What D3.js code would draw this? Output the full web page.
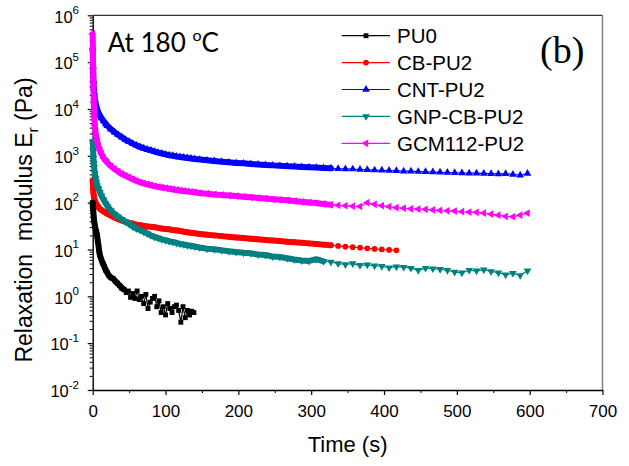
<!DOCTYPE html>
<html>
<head>
<meta charset="utf-8">
<script src="https://cdn.jsdelivr.net/npm/d3@7/dist/d3.min.js"></script>
<style>
    body { margin: 0; background: #fff; }
    text { font-family: "Liberation Sans", Arial, sans-serif; }
</style>
</head>
<body>
<div id="chart"></div>
<script>

// time points (s) shared by the filled PU2 samples
var timeGrid = [0, 0.5, 1, 1.5, 2, 3, 4, 5, 6, 8, 10, 12, 15, 18,
    20, 25, 30, 35, 40, 45, 50, 55, 60, 65, 70, 75, 80, 85, 90, 95, 100, 105, 110, 115, 120, 125, 130, 135, 140,
    147, 157, 167, 177, 187, 197, 207, 217, 227, 237, 247, 257, 267, 277, 287, 297, 307, 317, 327, 337, 347,
    357, 367, 377, 387, 397, 407, 417, 427, 437, 447, 457, 467, 477, 487, 497, 507, 517, 527, 537, 547,
    557, 567, 577, 587, 597];

// pure PU has its own (shorter) record
var timePU0 = [0, 0.5, 1, 1.5, 2, 3, 4, 5, 6, 7, 8, 9, 10, 12, 14, 16, 18, 20, 22, 25, 28, 31, 34, 37, 40,
    43, 46, 49, 52, 55, 58, 61, 64, 67, 70, 73, 76, 79, 82, 85, 88, 91, 94, 97, 100, 103, 106, 109, 112,
    115, 118, 121, 124, 127, 130, 133, 136, 139];

// relaxation modulus Er (Pa)
var ePU0 = [100, 80, 60, 48, 40, 32, 27, 24, 20, 15, 12, 9, 7.5, 6, 5, 4.3, 3.6, 3.2, 2.8, 2.5, 2.4, 2.1, 1.9, 1.7, 1.5,
    1.4, 1.2, 1.3, 0.95, 1.15, 0.9, 1.3, 0.85, 1.0, 0.7, 1.1, 0.55, 0.75, 0.9, 1.0, 0.6, 0.8, 0.45, 0.6, 0.4, 0.7, 0.55, 0.45, 0.6,
    0.65, 0.5, 0.28, 0.6, 0.35, 0.5, 0.4, 0.48, 0.45];

var eCB = [300, 200, 160, 140, 125, 110, 100, 93, 88, 80, 74, 70, 65, 61,
    58, 53, 48, 44.5, 41.5, 39, 37, 35.5, 34, 33, 32, 31, 30.5, 30, 29, 28, 27.5, 27, 26, 25.5, 25, 24, 23.3, 22.7, 22.2,
    21.5, 20.7, 20, 19.3, 18.7, 18.1, 17.5, 17, 16.5, 16, 15.5, 15.1, 14.7, 14.3, 13.9, 13.5, 13.1, 12.7, 12.3, 11.9,
    11.5, 11.2, 10.9, 10.6, 10.3, 10.0, 9.8, 9.6];

var eCNT = [2e5, 8e4, 4e4, 2.8e4, 2.2e4, 1.6e4, 1.3e4, 1.15e4, 1.0e4, 8300, 7200, 6400, 5500, 4800,
    4400, 3700, 3200, 2800, 2500, 2200, 2000, 1820, 1670, 1550, 1450, 1370, 1300, 1230, 1170, 1120, 1070, 1030, 1000, 970, 945, 920, 895, 875, 855,
    830, 800, 775, 750, 725, 705, 690, 670, 655, 640, 625, 610, 600, 590, 580, 570, 560, 550, 540, 530,
    525, 520, 510, 505, 495, 490, 485, 480, 470, 470, 460, 455, 450, 445, 440, 435, 430, 425, 425, 420,
    415, 410, 415, 400, 385, 420];

var eGNP = [2000, 1300, 900, 700, 560, 420, 330, 270, 230, 200, 165, 140, 115, 95,
    85, 68, 57, 50, 44, 39, 35, 31, 28, 26, 24, 22, 20, 18.5, 17.5, 16.5, 15.8, 15, 14.5, 13.8, 13.2, 12.8, 12.3, 12, 11.6,
    11, 10.4, 10.1, 9.6, 9.2, 8.8, 8.5, 8.3, 7.8, 7.6, 7.1, 6.9, 6.5, 6.1, 5.8, 5.7, 6.2, 5.6, 5.4, 5.0,
    4.8, 5.0, 4.6, 4.7, 4.5, 4.4, 4.1, 4.3, 4.2, 4.0, 3.6, 4.0, 3.9, 3.8, 3.6, 3.3, 3.2, 3.6, 3.5, 3.7,
    3.4, 3.2, 2.9, 3.1, 2.8, 3.5];

var eGCM = [4e5, 1e5, 3e4, 1.4e4, 8000, 4500, 3200, 2500, 2100, 1600, 1300, 1100, 900, 780,
    720, 600, 520, 460, 410, 375, 345, 315, 290, 272, 258, 245, 235, 225, 217, 210, 204, 198, 192, 187, 182, 178, 174, 170, 166,
    160, 155, 150, 146, 142, 138, 134, 130, 126, 122, 118, 115, 112, 108, 104, 101, 98, 94, 90, 88,
    86, 84, 83, 100, 92, 86, 82, 78, 76, 74, 73, 72, 70, 68, 67, 66, 64, 63, 62, 60,
    57, 54, 51, 50, 54, 60];

var seriesNames = ["PU0", "CB-PU2", "CNT-PU2", "GNP-CB-PU2", "GCM112-PU2"];
var xTicks = [0, 100, 200, 300, 400, 500, 600, 700];
var xMinorTicks = [50, 150, 250, 350, 450, 550, 650];
var yTicks = [1e-2, 1e-1, 1e0, 1e1, 1e2, 1e3, 1e4, 1e5, 1e6];


RelaxVis = function(_parentElement){
    this.parentElement = _parentElement;
    this.initVis();
};

RelaxVis.prototype.initVis = function(){
    var vis = this;

    vis.width = 629;
    vis.height = 466;
    vis.left = 92.7;
    vis.right = 602.5;
    vis.top = 15.3;
    vis.bottom = 390;

    vis.svg = d3.select(vis.parentElement).append("svg")
        .attr("width", vis.width)
        .attr("height", vis.height);

    vis.x = d3.scaleLinear().domain([0, 700]).range([vis.left, vis.right]);
    vis.y = d3.scaleLog().domain([1e-2, 1e6]).range([vis.bottom, vis.top]);

    // series table, in drawing order (PU0 ends up on top)
    // dense = time up to which the instrument logged so often that the markers merge into a band
    vis.series = [
        {name: seriesNames[1], t: timeGrid.slice(0, eCB.length), e: eCB, color: "#FF0000", sym: d3.symbolCircle, size: 26, rot: 0, legend: 1, dense: 330},
        {name: seriesNames[2], t: timeGrid, e: eCNT, color: "#0000FF", sym: d3.symbolTriangle, size: 26, rot: 0, legend: 2, dense: 335},
        {name: seriesNames[3], t: timeGrid, e: eGNP, color: "#008080", sym: d3.symbolTriangle, size: 26, rot: 180, legend: 3, dense: 322},
        {name: seriesNames[4], t: timeGrid, e: eGCM, color: "#FF00FF", sym: d3.symbolTriangle, size: 26, rot: -90, legend: 4, dense: 330},
        {name: seriesNames[0], t: timePU0, e: ePU0, color: "#000000", sym: d3.symbolSquare, size: 24, rot: 0, legend: 0, dense: 45}
    ];

    vis.updateVis();
};

RelaxVis.prototype.updateVis = function(){
    var vis = this;

    // frame: top black, right grey
    vis.svg.append("line")
        .attr("x1", vis.left).attr("x2", vis.right)
        .attr("y1", vis.top).attr("y2", vis.top)
        .attr("stroke", "#000").attr("stroke-width", 1);
    vis.svg.append("line")
        .attr("x1", vis.right).attr("x2", vis.right)
        .attr("y1", vis.top).attr("y2", vis.bottom)
        .attr("stroke", "#808080").attr("stroke-width", 1.5);

    // x axis
    var xAxis = d3.axisBottom(vis.x)
        .tickValues(xTicks)
        .tickSize(5)
        .tickSizeOuter(0)
        .tickPadding(10)
        .tickFormat(d3.format("d"));
    var gx = vis.svg.append("g")
        .attr("class", "x-axis")
        .attr("transform", "translate(0," + vis.bottom + ")")
        .call(xAxis);
    gx.selectAll("text").attr("font-size", 17).attr("fill", "#000").style("font-family", "Liberation Sans, Arial");
    gx.select(".domain").attr("stroke-width", 1.4);
    gx.selectAll(".tick line").attr("stroke-width", 1.2);

    var xMinor = d3.axisBottom(vis.x).tickValues(xMinorTicks).tickSize(3).tickSizeOuter(0).tickFormat("");
    vis.svg.append("g")
        .attr("transform", "translate(0," + vis.bottom + ")")
        .call(xMinor)
        .select(".domain").remove();

    vis.svg.append("text")
        .attr("x", (vis.left + vis.right) / 2)
        .attr("y", 452)
        .attr("font-size", 22)
        .attr("text-anchor", "middle")
        .text("Time (s)");

    // y axis (log) with minor ticks
    var yMinorVals = [];
    for (var k = -2; k < 6; k++) {
        for (var m = 2; m < 10; m++) { yMinorVals.push(m * Math.pow(10, k)); }
    }
    var yAxis = d3.axisLeft(vis.y)
        .tickValues(yTicks)
        .tickSize(5)
        .tickSizeOuter(0)
        .tickFormat("");
    var gy = vis.svg.append("g")
        .attr("class", "y-axis")
        .attr("transform", "translate(" + vis.left + ",0)")
        .call(yAxis);
    gy.select(".domain").attr("stroke-width", 1.4);
    gy.selectAll(".tick line").attr("stroke-width", 1.2);

    vis.svg.append("g")
        .attr("transform", "translate(" + vis.left + ",0)")
        .call(d3.axisLeft(vis.y).tickValues(yMinorVals).tickSize(3).tickSizeOuter(0).tickFormat(""))
        .select(".domain").remove();

    // "10" with superscript exponent
    yTicks.forEach(function(v){
        var t = vis.svg.append("text")
            .attr("x", 79)
            .attr("y", vis.y(v) + 7.3)
            .attr("text-anchor", "end")
            .attr("font-size", 16.5);
        t.append("tspan").text("10");
        t.append("tspan")
            .attr("font-size", 11.5)
            .attr("dy", -8.5)
            .text(Math.round(Math.log10(v)));
    });

    var yt = vis.svg.append("text")
        .attr("transform", "translate(31.5," + 220 + ") rotate(-90)")
        .attr("text-anchor", "middle")
        .attr("font-size", 23)
        .style("white-space", "pre");
    yt.append("tspan").text("Relaxation  modulus E");
    yt.append("tspan").attr("font-size", 15.5).attr("dy", 6).text("r");
    yt.append("tspan").attr("dy", -6).text(" (Pa)");

    // curves + markers
    var line = d3.line()
        .x(function(d){ return vis.x(d[0]); })
        .y(function(d){ return vis.y(d[1]); });

    vis.series.forEach(function(s){
        var pts = s.t.map(function(t, i){ return [t, s.e[i]]; });
        var densePts = pts.filter(function(d){ return d[0] <= s.dense; });
        var g = vis.svg.append("g").attr("class", "series");

        // merged markers of the densely logged part
        g.append("path")
            .datum(densePts)
            .attr("d", line)
            .attr("fill", "none")
            .attr("stroke", s.color)
            .attr("stroke-width", 6)
            .attr("stroke-linejoin", "round")
            .attr("stroke-linecap", "round");

        g.append("path")
            .datum(pts)
            .attr("d", line)
            .attr("fill", "none")
            .attr("stroke", s.color)
            .attr("stroke-width", 1.2);
        g.selectAll("path.pt")
            .data(pts)
            .enter().append("path")
            .attr("class", "pt")
            .attr("d", d3.symbol().type(s.sym).size(s.size))
            .attr("fill", s.color)
            .attr("transform", function(d){
                return "translate(" + vis.x(d[0]) + "," + vis.y(d[1]) + ") rotate(" + s.rot + ")";
            });
    });

    // legend
    var legendOrder = vis.series.slice().sort(function(a, b){ return a.legend - b.legend; });
    var lg = vis.svg.append("g").attr("class", "legend");
    legendOrder.forEach(function(s, i){
        var ly = 35.7 + i * 26.9;
        lg.append("line")
            .attr("x1", 341.7).attr("x2", 390)
            .attr("y1", ly).attr("y2", ly)
            .attr("stroke", s.color).attr("stroke-width", 1.2);
        lg.append("path")
            .attr("d", d3.symbol().type(s.sym).size(s.size))
            .attr("fill", s.color)
            .attr("transform", "translate(366," + ly + ") rotate(" + s.rot + ")");
        lg.append("text")
            .attr("x", 397)
            .attr("y", ly + 7.4)
            .attr("font-size", 20.5)
            .text(s.name);
    });

    // annotations
    var at = vis.svg.append("text")
        .attr("x", 107.7)
        .attr("y", 51.7)
        .attr("font-size", 26)
        .style("font-family", "Lato, 'Open Sans', sans-serif");
    at.append("tspan").text("At 180 ");
    at.append("tspan").attr("font-size", 16).attr("dy", -11).text("o");
    at.append("tspan").attr("dy", 11).text("C");

    vis.svg.append("text")
        .attr("x", 540)
        .attr("y", 63)
        .attr("font-size", 38)
        .style("font-family", "'Liberation Serif', 'Times New Roman', serif")
        .text("(b)");
};

var relaxVis = new RelaxVis("#chart");

</script>
</body>
</html>
